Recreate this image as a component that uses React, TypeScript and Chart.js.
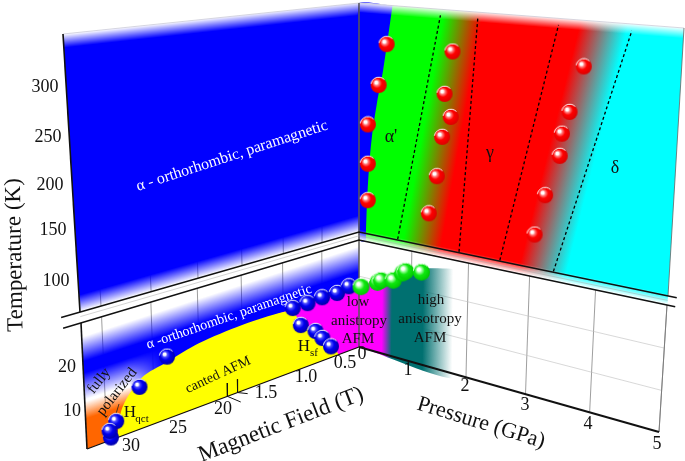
import { useEffect, useRef } from 'react';
import { Chart, registerables } from 'chart.js';
Chart.register(...registerables);

// ---------- data (physical units) ----------
const tempTicksUpper = [100, 150, 200, 250, 300];
const tempTicksLower = [10, 20];
const fieldTicks = [0, 0.5, 1.0, 1.5, 20, 25, 30];
const fieldTickText = ['0', '0.5', '1.0', '1.5', '20', '25', '30'];
const pressureTicks = [1, 2, 3, 4, 5];

// alpha / gamma / delta boundary measurements (P in GPa, T in K)
const alphaP1 = [0.5, 0.36, 0.165, 0.165, 0.165];
const alphaT1 = [306, 256, 206, 157, 111];
const gammaP = [1.63, 1.51, 1.62, 1.48, 1.4, 1.27];
const gammaT = [305, 255, 229, 204, 156, 109];
const deltaP = [3.66, 3.48, 3.38, 3.36, 3.16, 3.02];
const deltaT = [303, 252, 227, 202, 155, 107.5];

// low temperature H-T measurements (field in T, T in K)
const hqctField = [23.5, 26.5, 29, 29.6, 29.7];
const hqctTemp = [15.5, 10.4, 4.1, 0.6, 2.3];
const hsfField = [0.78, 0.59, 0.5, 0.385];
const hsfTemp = [11.9, 8.9, 6.3, 3.1];
const tnField = [0.88, 0.69, 0.5, 0.3, 0.14];
const tnTemp = [17.2, 17.2, 17.5, 17.3, 18.1];

// low temperature P-T measurements
const afmP = [0.04, 0.36, 0.43, 0.66, 0.83, 0.89, 1.18];
const afmT = [17.2, 19.5, 20.3, 21.1, 23.6, 24.3, 25];

// phase regions
const alphaEdgeP = [0.6, 0.44, 0.33, 0.24, 0.185, 0.15, 0.13, 0.12];
const alphaEdgeT = [352, 275, 234, 192, 150, 107, 68, 58];
const dash1P = [0.72, 1.42];
const dash2P = [1.8, 2.03];
const dash3P = [2.48, 3.27];
const dash4P = [3.33, 4.31];
const dashT = [69, 345];
const yellowField = [29, 28.3, 26.2, 23.5, 20, 1.5, 1.0, 0.88, 0.78, 0.59, 0.5, 0.31, 0.28, 0.28, 29, 29];
const yellowTemp = [0, 7, 12.5, 14.2, 16.2, 17.2, 17, 16.2, 12.7, 8.9, 6.3, 1.1, 0, 0, 0, 0];
const afmDomeP = [0, 0.4, 0.8, 1.2, 1.7, 2.0, 2.0, 2.0, 0, 0, 0];
const afmDomeT = [17.5, 20, 23, 26, 27.6, 28, 28, 0, 0, 0, 17.5];

// ---------- layout: image-unit corners of the four walls ----------
type XY = { x: number; y: number };
const W = 685, H = 461;
const FONT = '"Liberation Serif"';

function quadMap(c: number[][]) {
  const [[x0, y0], [x1, y1], [x2, y2], [x3, y3]] = c;
  const dx1 = x1 - x2, dx2 = x3 - x2, dx3 = x0 - x1 + x2 - x3;
  const dy1 = y1 - y2, dy2 = y3 - y2, dy3 = y0 - y1 + y2 - y3;
  const den = dx1 * dy2 - dx2 * dy1;
  const g = (dx3 * dy2 - dx2 * dy3) / den, h = (dx1 * dy3 - dx3 * dy1) / den;
  const a = x1 - x0 + g * x1, b = x3 - x0 + h * x3, d = y1 - y0 + g * y1, e = y3 - y0 + h * y3;
  return (u: number, v: number): XY => {
    const w = g * u + h * v + 1;
    return { x: (a * u + b * v + x0) / w, y: (d * u + e * v + y0) / w };
  };
}
const LLm = quadMap([[359, 347], [87, 449], [81, 323], [359, 240]]);
const LUm = quadMap([[359, 232], [80, 312], [63, 34], [359, 3]]);
const RUm = quadMap([[359, 232], [668, 296], [684, 28], [359, 3]]);
const RLm = quadMap([[359, 347], [659, 432], [667, 305], [359, 240]]);
const pos = (f: number) => (f <= 1.5 ? f * 2 : 4 + (f - 20) / 5);
const LL = (f: number, t: number) => LLm(pos(f) / 6.4, t / 30);
const LU = (f: number, t: number) => LUm(pos(f) / 6.4, (t - 68) / 284);
const RU = (p: number, t: number) => RUm(p / 5, (t - 68) / 284);
const RL = (p: number, t: number) => RLm(p / 5, t / 30);
const zip = (f: (a: number, b: number) => XY, a: number[], b: number[]) => a.map((v, i) => f(v, b[i]));

function sphere(size: number, light: string, mid: string, dark: string, rim: string) {
  const c = document.createElement('canvas');
  c.width = c.height = size + 2;
  const g = c.getContext('2d')!;
  const r = size / 2, o = r + 1;
  const grad = g.createRadialGradient(o - r * 0.35, o - r * 0.35, 0, o - r * 0.1, o - r * 0.1, r * 1.1);
  grad.addColorStop(0, '#ffffff');
  grad.addColorStop(0.16, '#ffffff');
  grad.addColorStop(0.3, light);
  grad.addColorStop(0.55, mid);
  grad.addColorStop(1, dark);
  g.fillStyle = grad;
  g.beginPath(); g.arc(o, o, r, 0, Math.PI * 2); g.fill();
  g.strokeStyle = rim; g.lineWidth = 1;
  g.beginPath(); g.arc(o, o, r - 0.2, Math.PI * 1.05, Math.PI * 1.75); g.stroke();
  return c;
}

const isoFill = (from: XY, to: XY, a1: XY, a2: XY, stops: [number, string][]) => (ctx: any) => {
  const chart = ctx.chart;
  const sx = chart.scales.x, sy = chart.scales.y;
  if (!sx || !sy) return 'transparent';
  const P = (q: XY) => ({ x: sx.getPixelForValue(q.x), y: sy.getPixelForValue(q.y) });
  const A = P(from), B = P(to), D1 = P(a1), D2 = P(a2);
  const len = Math.hypot(D2.x - D1.x, D2.y - D1.y);
  if (!isFinite(A.x) || !isFinite(B.y) || !isFinite(len) || len === 0) return 'transparent';
  const nx = -(D2.y - D1.y) / len, ny = (D2.x - D1.x) / len;
  const k = (B.x - A.x) * nx + (B.y - A.y) * ny;
  const g = chart.ctx.createLinearGradient(A.x, A.y, A.x + nx * k, A.y + ny * k);
  stops.forEach(([o, c]) => g.addColorStop(Math.min(1, Math.max(0, o)), c));
  return g;
};

const poly = (data: XY[], backgroundColor: any, tension = 0) => ({
  data, showLine: true, fill: 'shape', backgroundColor, borderWidth: 0, borderColor: 'transparent', pointRadius: 0, tension,
});
const line = (data: XY[], borderColor: string, borderWidth: number, borderDash: number[] = []) => ({
  data, showLine: true, fill: false, borderColor, borderWidth, borderDash, pointRadius: 0,
});
const balls = (data: XY[], pointStyle: any, pointRadius: number) => ({
  data, showLine: false, fill: false, pointStyle, pointRadius, borderWidth: 0,
});

function buildDatasets() {
  const BLUE = '#0000ff', BLUE0 = 'rgba(0,0,255,0)';
  const GRID = 'rgba(125,125,125,0.75)', GRID2 = 'rgba(190,190,190,0.6)';
  const ds: any[] = [];

  // grid
  pressureTicks.forEach((p) => ds.push(line([RL(p, 0), RL(p, 30)], GRID, 1)));
  tempTicksLower.forEach((t) => ds.push(line([RL(0, t), RL(5, t)], GRID2, 1)));
  fieldTicks.slice(1).forEach((f) => {
    ds.push(line([LL(f, 0), LL(f, 30)], GRID, 1));
    ds.push(line([LU(f, 68), LU(f, 110)], GRID, 1));
  });

  // left wall, upper part
  ds.push(poly([LU(0, 68), LU(32, 68), LU(32, 215), LU(0, 215)],
    isoFill(LU(1.5, 68), LU(1.5, 88), LU(0, 72), LU(32, 72), [[0, BLUE0], [1, BLUE]])));
  ds.push(poly([LU(0, 200), LU(32, 200), LU(32, 352), LU(0, 352)],
    isoFill(LU(1.5, 338), LU(1.5, 352), LU(0, 345), LU(32, 345), [[0, BLUE], [1, 'rgba(0,0,255,0.05)']])));

  // right wall, upper part
  const t2s = RU(2.8, 68), t2sT = RU(3.59, 352), t2e = RU(3.5, 68), t2eT = RU(4.28, 352);
  const midp = (a: XY, b: XY) => ({ x: (a.x + b.x) / 2, y: (a.y + b.y) / 2 });
  ds.push(poly([RU(0, 58), RU(5, 58), RU(5, 352), RU(0, 352)],
    isoFill(midp(t2s, t2sT), midp(t2e, t2eT), t2s, t2sT, [[0, '#ff0000'], [0.5, '#808080'], [1, '#00ffff']])));
  const t1s = RU(0.82, 68), t1sT = RU(1.49, 352), t1e = RU(1.54, 68), t1eT = RU(2.06, 352);
  ds.push(poly([RU(0, 58), RU(2.4, 58), RU(3.27, 352), RU(0, 352)],
    isoFill(midp(t1s, t1sT), midp(t1e, t1eT), t1s, t1sT, [[0, '#00ff00'], [0.5, '#808000'], [1, '#ff0000']])));
  ds.push(poly([...zip(RU, alphaEdgeP, alphaEdgeT), RU(0, 58), RU(0, 352), RU(0.6, 352)], BLUE, 0.3));
  // white fades over the coloured wall
  ds.push(poly([RU(0, 58), RU(5.02, 58), RU(5.02, 72), RU(0, 72)],
    isoFill(RU(2.5, 71), RU(2.5, 58), RU(0, 65), RU(5, 65), [[0, 'rgba(255,255,255,0)'], [1, '#ffffff']])));
  ds.push(poly([RU(0, 341), RU(5.02, 341), RU(5.02, 353), RU(0, 353)],
    isoFill(RU(2.5, 341), RU(2.5, 353), RU(0, 347), RU(5, 347), [[0, 'rgba(255,255,255,0)'], [1, '#ffffff']])));

  // left wall, lower part
  const os = (t: number) => (30 - t) / 30;
  ds.push(poly([LL(0, 0), LL(32, 0), LL(32, 30), LL(0, 30)],
    isoFill(LL(1.5, 30), LL(1.5, 0), LL(0, 19), LL(32, 19), [
      [os(27.5), BLUE0], [os(21), BLUE], [os(18), BLUE], [os(11), BLUE0],
      [os(10.5), 'rgba(255,102,0,0)'], [os(6), '#ff6600'], [1, '#ff6600'],
    ])));
  // blue hugging the dome, fading out towards the high-field end
  ds.push(poly([LL(0, 18.5), LL(29, 18.5), LL(29, 9), LL(0, 9)],
    isoFill(LL(24, 14), LL(27.5, 14), LL(25, 0), LL(25, 30), [[0, BLUE], [1, BLUE0]])));
  ds.push(poly([LL(1.1, 17), LL(0.5, 17), LL(0, 18), LL(0, 0), LL(1.1, 0)], '#ff00ff'));
  ds.push(poly(zip(LL, yellowField, yellowTemp), '#ffff00', 0.3));

  // right wall, lower part
  ds.push(poly(zip(RL, afmDomeP, afmDomeT),
    isoFill(RL(0.45, 10), RL(1.75, 10), RL(1, 0), RL(1, 30), [
      [0, '#ff00ff'], [(0.63 - 0.45) / 1.3, '#007070'], [(1.2 - 0.45) / 1.3, '#007070'], [1, 'rgba(0,112,112,0)'],
    ]), 0.25));

  // frame
  ds.push(line([LU(32, 352), LU(0, 352), RU(5, 352)], 'rgba(190,190,205,0.6)', 1));
  ds.push(line([RU(5, 352), RU(5, 68)], 'rgba(100,100,100,0.8)', 1));
  ds.push(line([RL(5, 30), RL(5, 0)], 'rgba(120,120,120,0.9)', 1));
  ds.push(line([LU(0, 352), LL(0, 0)], 'rgba(90,90,90,0.75)', 1));
  ds.push(line([LU(32, 352), LU(32, 68)], '#111111', 1.6));
  ds.push(line([LL(32, 30), LL(32, 0)], '#111111', 1.6));
  ds.push(line([LL(32, 0), LL(0, 0)], '#111111', 1.3));
  ds.push(line([RL(0, 0), RL(5, 0)], '#111111', 2));
  // axis break lines
  ds.push(line([LU(33.75, 68), LU(0, 68), RU(5.12, 68)], '#111111', 1.5));
  ds.push(line([LL(33.7, 30), LL(0, 30), RL(5.11, 30)], '#111111', 1.5));
  ds.push(line([LU(32, 63), LU(0, 63), RU(5, 63)], 'rgba(170,170,170,0.5)', 1));
  // field axis break marks (axis position 3.38, 3.14 -> between 1.5 T and 20 T)
  const markA = [LLm(3.38 / 6.4, 3.5 / 30), LLm(3.38 / 6.4, 0), LLm(3.07 / 6.4, -2.8 / 30)];
  const markB = [LLm(3.14 / 6.4, 3.5 / 30), LLm(3.14 / 6.4, 0), LLm(2.9 / 6.4, -1.3 / 30)];
  ds.push(line(markA, '#111111', 1));
  ds.push(line(markB, '#111111', 1));
  // phase dashes
  [dash1P, dash2P, dash3P, dash4P].forEach((p) => ds.push(line(zip(RU, p, dashT), '#000000', 1.3, [3, 2.5])));
  ds.push(line([{ x: 115, y: 417 }, { x: 119, y: 404 }], '#222222', 0.8));

  // measurements
  const red = sphere(16, '#ff8080', '#ff0000', '#dc0000', '#ffffff');
  const blue = sphere(16, '#5050ff', '#0000f0', '#0000a8', '#ffffff');
  const green = sphere(17, '#a0ffa0', '#10e810', '#00c800', '#e8ffe8');
  ds.push(balls(zip(RU, alphaP1, alphaT1), red, 8));
  ds.push(balls(zip(RU, gammaP, gammaT), red, 8));
  ds.push(balls(zip(RU, deltaP, deltaT), red, 8));
  ds.push(balls(zip(LL, hqctField, hqctTemp), blue, 8));
  ds.push(balls(zip(LL, hsfField, hsfTemp), blue, 8));
  ds.push(balls(zip(LL, tnField, tnTemp), blue, 8));
  ds.push(balls(zip(RL, afmP, afmT), green, 8.5));
  const n = ds.length;
  ds.forEach((d, i) => { d.order = n - i; d.clip = false; });
  return ds;
}

const textLayer = {
  id: 'textLayer',
  afterDatasetsDraw(chart: any) {
    const c = chart.ctx;
    const t = (s: string, x: number, y: number, size: number, color = '#111111', angle = 0) => {
      c.save();
      c.translate(x, y);
      c.rotate((angle * Math.PI) / 180);
      c.font = `${size}px ${FONT}`;
      c.fillStyle = color;
      c.textAlign = 'center';
      c.textBaseline = 'middle';
      c.fillText(s, 0, 0);
      c.restore();
    };
    const tempLowX = [72, 67], tempLowY = [411, 367];
    tempTicksLower.forEach((v, i) => t(String(v), tempLowX[i], tempLowY[i], 18));
    const tempUpX = [56, 53, 50, 48, 45], tempUpY = [281, 230, 185, 137, 87];
    tempTicksUpper.forEach((v, i) => t(String(v), tempUpX[i], tempUpY[i], 18));
    const fieldX = [362, 345, 306, 266, 223, 178, 131], fieldY = [354, 363, 377, 393, 409, 428, 446];
    fieldTickText.forEach((s, i) => t(s, fieldX[i], fieldY[i], 18));
    const pressX = [408, 465, 525, 588, 657], pressY = [370, 386, 405, 424, 444];
    pressureTicks.forEach((v, i) => t(String(v), pressX[i], pressY[i], 18));

    t('Temperature (K)', 15, 255, 23, '#111111', -91);
    t('Magnetic Field (T)', 281, 425, 23, '#111111', -21);
    t('Pressure (GPa)', 481, 423, 22, '#111111', 17);

    t('α - orthorhombic, paramagnetic', 232, 156, 15.8, '#ffffff', -18);
    t('α -orthorhombic, paramagnetic', 229, 317, 14, '#ffffff', -19);
    t('fully', 99, 381, 15, '#111111', -52);
    t('polarized', 117, 392, 15, '#111111', -52);
    t('canted AFM', 218, 375, 14, '#111111', -25);
    t('H', 130, 413, 17); t('qct', 142, 419, 11);
    t('H', 304, 347, 17); t('sf', 314, 353, 11);
    t('low', 358, 302, 15); t('anistropy', 359, 321, 15); t('AFM', 358, 339, 15);
    t('high', 431, 300, 15); t('anisotropy', 430, 319, 15); t('AFM', 430, 338, 15);
    t("α'", 391, 137, 18); t('γ', 490, 153, 18); t('δ', 615, 168, 18);
  },
};

export default function App() {
  const ref = useRef<HTMLCanvasElement>(null);
  useEffect(() => {
    const chart = new Chart(ref.current!, {
      type: 'scatter',
      data: { datasets: buildDatasets() },
      plugins: [textLayer],
      options: {
        animation: false,
        responsive: false,
        devicePixelRatio: 1,
        layout: { padding: 0, autoPadding: false },
        plugins: { legend: { display: false }, tooltip: { enabled: false }, title: { display: false } },
        scales: {
          x: { type: 'linear', min: 0, max: W, display: false },
          y: { type: 'linear', min: 0, max: H, reverse: true, display: false },
        },
      },
    } as any);
    return () => chart.destroy();
  }, []);
  return (
    <div style={{ position: 'absolute', left: 0, top: 0, width: W, height: H, background: '#fff' }}>
      <canvas ref={ref} width={W} height={H} style={{ display: 'block' }} />
    </div>
  );
}
